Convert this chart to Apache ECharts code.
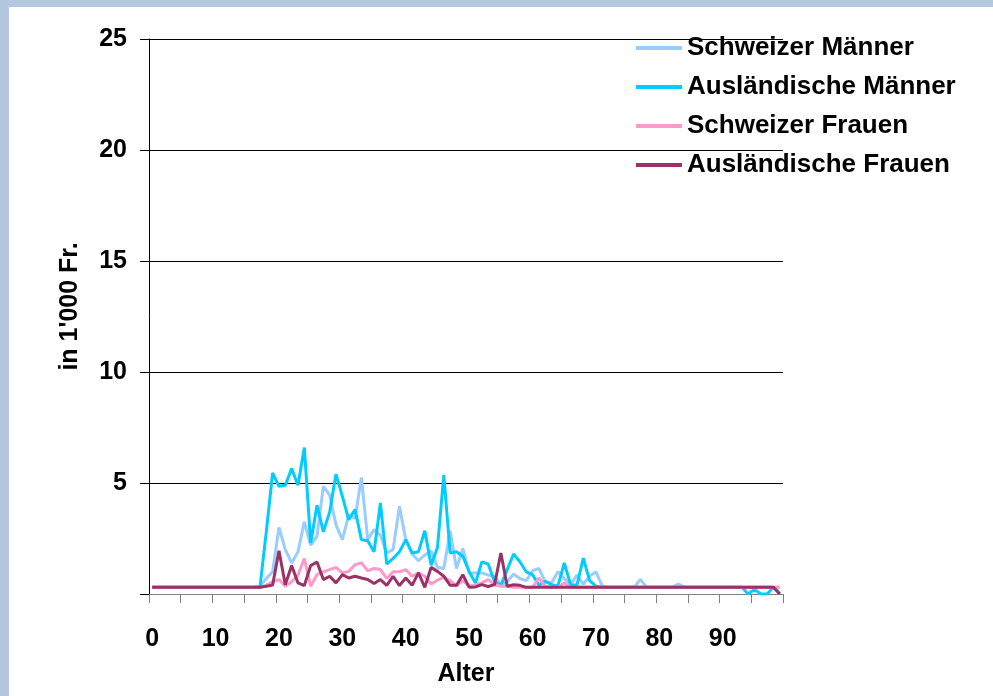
<!DOCTYPE html>
<html>
<head>
<meta charset="utf-8">
<script src="https://cdn.jsdelivr.net/npm/echarts@6/dist/echarts.min.js"></script>
<style>
html,body{margin:0;padding:0;background:#fff;}
#chart{width:993px;height:696px;}
</style>
</head>
<body>
<div id="chart"></div>
<script>
// Ages 0..99
const ages = Array.from({length: 100}, (_, i) => String(i));

const seriesNames = ["Schweizer Männer", "Ausländische Männer", "Schweizer Frauen", "Ausländische Frauen"];

const schweizerMaenner = [
  0.3,0.3,0.3,0.3,0.3,0.3,0.3,0.3,0.3,0.3,
  0.3,0.3,0.3,0.3,0.3,0.3,0.3,0.35,0.7,1.0,
  3.0,2.0,1.4,1.9,3.25,2.2,2.6,4.85,4.45,3.1,
  2.45,3.55,3.4,5.25,2.45,2.9,2.65,1.85,2.0,3.95,
  2.45,1.8,1.5,1.75,1.95,1.2,1.15,2.85,1.15,2.05,
  0.95,0.95,0.95,0.85,0.8,0.4,0.55,0.9,0.7,0.6,
  1.05,1.15,0.55,0.5,1.0,0.7,0.42,0.85,0.45,0.8,
  1.0,0.35,0.3,0.3,0.3,0.3,0.3,0.65,0.3,0.3,
  0.3,0.3,0.3,0.45,0.3,0.3,0.3,0.3,0.3,0.3,
  0.3,0.3,0.3,0.3,0.3,0.3,0.3,0.3,0.3,0.3
];

const auslaendischeMaenner = [
  0.3,0.3,0.3,0.3,0.3,0.3,0.3,0.3,0.3,0.3,
  0.3,0.3,0.3,0.3,0.3,0.3,0.3,0.3,2.8,5.45,
  4.85,4.9,5.65,4.9,6.6,2.3,4.0,2.8,3.7,5.4,
  4.4,3.35,3.8,2.45,2.4,1.9,4.1,1.35,1.6,1.9,
  2.45,1.85,1.9,2.85,1.3,2.1,5.35,1.85,1.9,1.7,
  1.0,0.5,1.45,1.35,0.55,0.4,1.1,1.8,1.45,1.0,
  0.87,0.4,0.57,0.42,0.35,1.4,0.42,0.4,1.62,0.6,
  0.35,0.3,0.3,0.3,0.3,0.3,0.3,0.3,0.3,0.3,
  0.3,0.3,0.3,0.3,0.3,0.3,0.3,0.3,0.3,0.3,
  0.3,0.3,0.3,0.3,0.0,0.2,0.0,0.0,0.3,0.0
];

const schweizerFrauen = [
  0.3,0.3,0.3,0.3,0.3,0.3,0.3,0.3,0.3,0.3,
  0.3,0.3,0.3,0.3,0.3,0.3,0.3,0.3,0.4,0.55,
  0.65,0.35,0.55,0.85,1.6,0.35,0.87,1.0,1.1,1.2,
  0.95,1.02,1.32,1.4,1.05,1.15,1.1,0.7,1.0,1.0,
  1.1,0.8,0.95,0.8,0.45,0.62,0.75,0.6,0.36,0.6,
  0.35,0.42,0.5,0.65,0.42,0.35,0.35,0.3,0.3,0.3,
  0.3,0.72,0.35,0.3,0.3,0.5,0.3,0.3,0.3,0.3,
  0.3,0.3,0.3,0.3,0.3,0.3,0.3,0.3,0.3,0.3,
  0.3,0.3,0.3,0.3,0.3,0.3,0.3,0.3,0.3,0.3,
  0.3,0.3,0.3,0.3,0.3,0.3,0.3,0.3,0.3,0.3
];

const auslaendischeFrauen = [
  0.3,0.3,0.3,0.3,0.3,0.3,0.3,0.3,0.3,0.3,
  0.3,0.3,0.3,0.3,0.3,0.3,0.3,0.3,0.35,0.4,
  1.95,0.42,1.28,0.5,0.38,1.28,1.44,0.65,0.8,0.5,
  0.87,0.72,0.8,0.72,0.65,0.47,0.65,0.39,0.8,0.38,
  0.72,0.39,0.95,0.3,1.2,1.02,0.8,0.39,0.39,0.87,
  0.3,0.32,0.42,0.34,0.42,1.85,0.35,0.42,0.39,0.3,
  0.3,0.3,0.3,0.3,0.3,0.3,0.3,0.3,0.3,0.3,
  0.3,0.3,0.3,0.3,0.3,0.3,0.3,0.3,0.3,0.3,
  0.3,0.3,0.3,0.3,0.3,0.3,0.3,0.3,0.3,0.3,
  0.3,0.3,0.3,0.3,0.3,0.3,0.3,0.3,0.3,0.0
];

const colors = ["#99ccff", "#00ccff", "#ff99cc", "#993366"];
const seriesData = [schweizerMaenner, auslaendischeMaenner, schweizerFrauen, auslaendischeFrauen];

const FONT = "'Liberation Sans', Arial, sans-serif";
const chart = echarts.init(document.getElementById('chart'), null, {renderer: 'canvas'});

chart.setOption({
  animation: false,
  backgroundColor: '#ffffff',
  graphic: [
    {type: 'rect', left: 0, top: 0, shape: {width: 9, height: 696}, style: {fill: '#b4c7e1'}, silent: true},
    {type: 'rect', left: 0, top: 0, shape: {width: 993, height: 7}, style: {fill: '#b4c7e1'}, silent: true}
  ],
  grid: {left: 149, right: 210, top: 39, bottom: 102, containLabel: false},
  legend: {
    orient: 'vertical',
    left: 636,
    top: 33,
    padding: 0,
    icon: 'rect',
    itemWidth: 46,
    itemHeight: 4,
    itemGap: 9,
    data: seriesNames,
    textStyle: {fontFamily: FONT, fontWeight: 'bold', fontSize: 26, color: '#000', lineHeight: 30}
  },
  xAxis: {
    type: 'category',
    data: ages,
    boundaryGap: true,
    name: 'Alter',
    nameLocation: 'middle',
    nameGap: 68,
    nameTextStyle: {fontFamily: FONT, fontWeight: 'bold', fontSize: 25, color: '#000'},
    axisLine: {lineStyle: {color: '#808080', width: 1}},
    axisTick: {show: true, interval: 4, length: 9, inside: false, lineStyle: {color: '#808080'}},
    axisLabel: {interval: 9, margin: 33, fontFamily: FONT, fontWeight: 'bold', fontSize: 25, color: '#000'},
    splitLine: {show: false}
  },
  yAxis: {
    type: 'value',
    min: 0, max: 25, interval: 5,
    name: "in 1'000 Fr.",
    nameLocation: 'middle',
    nameGap: 66,
    nameTextStyle: {fontFamily: FONT, fontWeight: 'bold', fontSize: 25, color: '#000', padding: [0, 0, 0, 20]},
    axisLine: {show: true, lineStyle: {color: '#000', width: 1}},
    axisTick: {show: true, length: 9, lineStyle: {color: '#000'}},
    axisLabel: {margin: 22, fontFamily: FONT, fontWeight: 'bold', fontSize: 25, color: '#000',
      formatter: v => v === 0 ? '' : String(v)},
    splitLine: {show: true, lineStyle: {color: '#000', width: 1}}
  },
  series: seriesNames.map((name, k) => ({
    name: name,
    type: 'line',
    data: seriesData[k],
    symbol: 'none',
    smooth: false,
    lineStyle: {color: colors[k], width: 3},
    itemStyle: {color: colors[k]},
    z: 2 + k
  }))
});
</script>
</body>
</html>
